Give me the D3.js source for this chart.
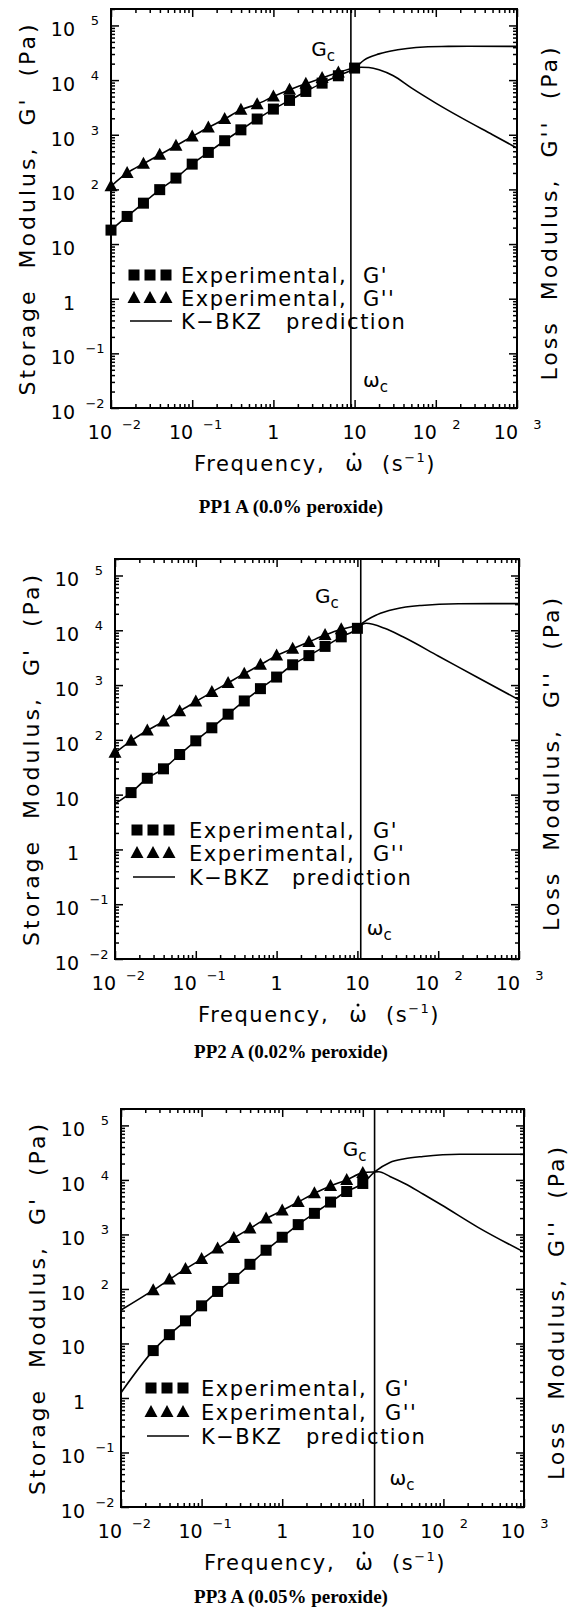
<!DOCTYPE html>
<html>
<head>
<meta charset="utf-8">
<script src="https://cdn.jsdelivr.net/npm/d3@7"></script>
<style>
  body { margin: 0; background: #fff; }
  text { font-family: "DejaVu Sans", sans-serif; fill: #000; }
</style>
</head>
<body>
<div id="chart"></div>
<script>
// ---- data ----

// shared axes
const xMajor = [0.01, 0.1, 1, 10, 100, 1000];
const xTickBase = ["10", "10", "1", "10", "10", "10"];
const xTickSup = ["\u22122", "\u22121", "", "", "2", "3"];
const yMajor = [0.01, 0.1, 1, 10, 100, 1000, 1e4, 1e5];
const yTickBase = ["10", "10", "1", "10", "10", "10", "10", "10"];
const yTickSup = ["\u22122", "\u22121", "", "", "2", "3", "4", "5"];
const xDomain = [0.01, 1000];
const yDomain = [0.01, 2e5];

// PP1 A (0.0% peroxide)
const pp1FreqGp = [0.01, 0.0158, 0.0251, 0.0398, 0.0631, 0.1, 0.158, 0.251, 0.398, 0.631, 1, 1.58, 2.51, 3.98, 6.31, 10];
const pp1Gp = [18, 32, 56, 99, 161, 290, 475, 777, 1230, 1940, 2950, 4250, 6200, 8800, 12000, 16600];
const pp1FreqGpp = [0.01, 0.0158, 0.0251, 0.0398, 0.0631, 0.1, 0.158, 0.251, 0.398, 0.631, 1, 1.58, 2.51, 3.98, 6.31];
const pp1Gpp = [114, 200, 295, 430, 630, 930, 1360, 1940, 2870, 3630, 5010, 6650, 8570, 10900, 13800];
const pp1ModelFreqGp = [0.01, 0.0158, 0.0251, 0.0398, 0.0631, 0.1, 0.158, 0.251, 0.398, 0.631, 1, 1.58, 2.51, 3.98, 6.31, 10, 13.2, 20, 34, 57, 118, 250, 1000];
const pp1ModelGp = [18, 32, 56, 99, 161, 290, 475, 777, 1230, 1940, 2950, 4250, 6200, 8800, 12000, 16600, 23500, 30200, 35900, 39600, 41300, 41500, 41500];
const pp1ModelFreqGpp = [0.01, 0.0158, 0.0251, 0.0398, 0.0631, 0.1, 0.158, 0.251, 0.398, 0.631, 1, 1.58, 2.51, 3.98, 6.31, 10, 12, 15, 20, 30, 50, 100, 200, 500, 1000];
const pp1ModelGpp = [114, 200, 295, 430, 630, 930, 1360, 1940, 2870, 3630, 5010, 6650, 8570, 10900, 13800, 16600, 17200, 17000, 15500, 12000, 7200, 3800, 2100, 1000, 570];
const pp1OmegaC = 9;

// PP2 A (0.02% peroxide)
const pp2FreqGp = [0.0158, 0.0251, 0.0398, 0.0631, 0.1, 0.158, 0.251, 0.398, 0.631, 1, 1.58, 2.51, 3.98, 6.31, 10];
const pp2Gp = [10.9, 19.9, 29.6, 54, 96, 166, 294, 513, 860, 1400, 2345, 3450, 5080, 7590, 10860];
const pp2FreqGpp = [0.01, 0.0158, 0.0251, 0.0398, 0.0631, 0.1, 0.158, 0.251, 0.398, 0.631, 1, 1.58, 2.51, 3.98, 6.31];
const pp2Gpp = [58, 96, 148, 217, 334, 499, 745, 1096, 1615, 2344, 3450, 4600, 6130, 8160, 10400];
const pp2ModelFreqGp = [0.01, 0.0158, 0.0251, 0.0398, 0.0631, 0.1, 0.158, 0.251, 0.398, 0.631, 1, 1.58, 2.51, 3.98, 6.31, 10, 11, 17.6, 29.7, 61.7, 178, 1000];
const pp2ModelGp = [6.8, 10.9, 19.9, 29.6, 54, 96, 166, 294, 513, 860, 1400, 2345, 3450, 5080, 7590, 10860, 12600, 19300, 24500, 28400, 30500, 30700];
const pp2ModelFreqGpp = [0.01, 0.0158, 0.0251, 0.0398, 0.0631, 0.1, 0.158, 0.251, 0.398, 0.631, 1, 1.58, 2.51, 3.98, 6.31, 11, 12.8, 21.7, 36.6, 100, 300, 1000];
const pp2ModelGpp = [58, 96, 148, 217, 334, 499, 745, 1096, 1615, 2344, 3450, 4600, 6130, 8160, 10400, 12600, 13400, 10900, 7590, 3400, 1400, 537];
const pp2OmegaC = 11;

// PP3 A (0.05% peroxide)
const pp3FreqGp = [0.0251, 0.0398, 0.0631, 0.1, 0.158, 0.251, 0.398, 0.631, 1, 1.58, 2.51, 3.98, 6.31, 10];
const pp3Gp = [7.4, 14.5, 26, 49, 90, 156, 283, 513, 888, 1514, 2437, 3925, 6130, 8610];
const pp3FreqGpp = [0.0251, 0.0398, 0.0631, 0.1, 0.158, 0.251, 0.398, 0.631, 1, 1.58, 2.51, 3.98, 6.31, 10];
const pp3Gpp = [95, 149, 233, 353, 552, 861, 1288, 1953, 2747, 3925, 5690, 7770, 10000, 13460];
const pp3ModelFreqGp = [0.01, 0.0251, 0.0398, 0.0631, 0.1, 0.158, 0.251, 0.398, 0.631, 1, 1.58, 2.51, 3.98, 6.31, 10, 14, 21.7, 33, 55.8, 158, 1000];
const pp3ModelGp = [1.25, 7.4, 14.5, 26, 49, 90, 156, 283, 513, 888, 1514, 2437, 3925, 6130, 8610, 14000, 20900, 24400, 26900, 29500, 29500];
const pp3ModelFreqGpp = [0.01, 0.0251, 0.0398, 0.0631, 0.1, 0.158, 0.251, 0.398, 0.631, 1, 1.58, 2.51, 3.98, 6.31, 10, 14, 15.8, 21.7, 33, 55.8, 94, 269, 1000];
const pp3ModelGpp = [41, 95, 149, 233, 353, 552, 861, 1288, 1953, 2747, 3925, 5690, 7770, 10000, 13460, 14000, 14100, 11600, 8610, 5520, 3500, 1350, 475];
const pp3OmegaC = 14;

const captions = ["PP1 A (0.0% peroxide)", "PP2 A (0.02% peroxide)", "PP3 A (0.05% peroxide)"];

// ---- layout ----
const W = 577, H = 1614;
const svg = d3.select("#chart").append("svg")
    .attr("width", W)
    .attr("height", H);

const panels = [
  { left: 111, top: 9, right: 517, bottom: 408, capDy: 105,
    gc: [-16, 50], wc: [12, 383], leg: { x: 23, text: 70, g: 252, pred: 175, rows: [275, 298, 321] },
    fGp: pp1FreqGp, gp: pp1Gp, fGpp: pp1FreqGpp, gpp: pp1Gpp,
    mfGp: pp1ModelFreqGp, mGp: pp1ModelGp, mfGpp: pp1ModelFreqGpp, mGpp: pp1ModelGpp, wC: pp1OmegaC },
  { left: 115, top: 559, right: 519, bottom: 959, capDy: 99,
    gc: [-22, 597], wc: [6, 931], leg: { x: 22, text: 74, g: 258, pred: 177, rows: [830, 853, 877] },
    fGp: pp2FreqGp, gp: pp2Gp, fGpp: pp2FreqGpp, gpp: pp2Gpp,
    mfGp: pp2ModelFreqGp, mGp: pp2ModelGp, mfGpp: pp2ModelFreqGpp, mGpp: pp2ModelGpp, wC: pp2OmegaC },
  { left: 121, top: 1109, right: 524, bottom: 1507, capDy: 96,
    gc: [-8, 1150], wc: [15, 1481], leg: { x: 30, text: 80, g: 264, pred: 185, rows: [1388, 1412, 1436] },
    fGp: pp3FreqGp, gp: pp3Gp, fGpp: pp3FreqGpp, gpp: pp3Gpp,
    mfGp: pp3ModelFreqGp, mGp: pp3ModelGp, mfGpp: pp3ModelFreqGpp, mGpp: pp3ModelGpp, wC: pp3OmegaC }
];

function minorTicks(lo, hi) {
  let out = [];
  for (let d = lo; d < hi; d *= 10) {
    for (let m = 2; m <= 9; m++) {
      if (d * m <= hi * 1.0001) out.push(d * m);
    }
  }
  return out;
}
const xMinor = minorTicks(0.01, 1000);
const yMinor = minorTicks(0.01, 2e5);

const triPath = "M0,-7L6.5,5L-6.5,5Z";

function drawPanel(p, i) {
  const g = svg.append("g");
  const x = d3.scaleLog().domain(xDomain).range([p.left, p.right]);
  const y = d3.scaleLog().domain(yDomain).range([p.bottom, p.top]);

  // ticks on all four sides, pointing inwards
  const addAxis = (axisFn, scale, vals, size, tr) => {
    const a = g.append("g").attr("transform", tr)
      .call(axisFn(scale).tickValues(vals).tickSize(-size).tickFormat(""));
    a.select(".domain").remove();
    a.selectAll("line").attr("stroke-width", 1.5);
  };
  addAxis(d3.axisBottom, x, xMajor, 8, `translate(0,${p.bottom})`);
  addAxis(d3.axisBottom, x, xMinor, 4, `translate(0,${p.bottom})`);
  addAxis(d3.axisTop, x, xMajor, 8, `translate(0,${p.top})`);
  addAxis(d3.axisTop, x, xMinor, 4, `translate(0,${p.top})`);
  addAxis(d3.axisLeft, y, yMajor, 8, `translate(${p.left},0)`);
  addAxis(d3.axisLeft, y, yMinor, 4, `translate(${p.left},0)`);
  addAxis(d3.axisRight, y, yMajor, 8, `translate(${p.right},0)`);
  addAxis(d3.axisRight, y, yMinor, 4, `translate(${p.right},0)`);

  g.append("rect")
    .attr("x", p.left).attr("y", p.top)
    .attr("width", p.right - p.left).attr("height", p.bottom - p.top)
    .attr("fill", "none").attr("stroke", "#000").attr("stroke-width", 2);

  // x tick labels
  xMajor.forEach((v, k) => {
    const t = g.append("text").attr("y", p.bottom + 31).style("font-size", "19px");
    if (xTickSup[k] === "") {
      t.attr("x", x(v)).attr("text-anchor", "middle").text(xTickBase[k]);
    } else {
      t.attr("x", x(v) + 1).attr("text-anchor", "end").text(xTickBase[k]);
      g.append("text").attr("x", x(v) + 20.5).attr("y", p.bottom + 21)
        .attr("text-anchor", "middle").style("font-size", "13px").text(xTickSup[k]);
    }
  });

  // y tick labels
  yMajor.forEach((v, k) => {
    g.append("text").attr("x", p.left - 36).attr("y", y(v) + 11)
      .attr("text-anchor", "end").style("font-size", "19px")
      .text(yTickBase[k]);
    if (yTickSup[k] !== "") {
      g.append("text").attr("x", p.left - 16).attr("y", y(v))
        .attr("text-anchor", "middle").style("font-size", "13px").text(yTickSup[k]);
    }
  });

  // x axis title
  const x0 = p.left + 83, by = p.bottom + 63;
  g.append("text").attr("x", x0).attr("y", by)
    .style("font-size", "21px").style("letter-spacing", "1.6px").text("Frequency,");
  g.append("text").attr("x", x0 + 160).attr("y", by)
    .attr("text-anchor", "middle").style("font-size", "21px").text("\u03c9");
  g.append("circle").attr("cx", x0 + 160).attr("cy", by - 17).attr("r", 1.5).attr("fill", "#000");
  const st = g.append("text").attr("x", x0 + 188).attr("y", by)
    .style("font-size", "21px").style("letter-spacing", "1.5px");
  st.append("tspan").text("(s");
  st.append("tspan").attr("dy", -9).style("font-size", "13px").text("\u22121");
  st.append("tspan").attr("dy", 9).text(")");

  // y axis titles
  const cy = (p.top + p.bottom) / 2;
  g.append("text").attr("transform", `translate(${p.left - 76},${cy}) rotate(-90)`)
    .attr("text-anchor", "middle").style("font-size", "22px")
    .style("letter-spacing", "3px").style("white-space", "pre")
    .text("Storage  Modulus,  G'  (Pa)");
  g.append("text").attr("transform", `translate(${p.right + 40},${cy + 4}) rotate(-90)`)
    .attr("text-anchor", "middle").style("font-size", "22px")
    .style("letter-spacing", "3px").style("white-space", "pre")
    .text("Loss  Modulus,  G''  (Pa)");

  // caption
  g.append("text").attr("x", 291).attr("y", p.bottom + p.capDy)
    .attr("text-anchor", "middle")
    .style("font-family", "'Liberation Serif', 'Times New Roman', serif")
    .style("font-weight", "bold").style("font-size", "19px")
    .text(captions[i]);

  // crossover line
  const xc = x(p.wC);
  g.append("line").attr("x1", xc).attr("x2", xc).attr("y1", p.top).attr("y2", p.bottom)
    .attr("stroke", "#000").attr("stroke-width", 1.6);
  const gcT = g.append("text").attr("x", xc + p.gc[0]).attr("y", p.gc[1] + 6)
    .attr("text-anchor", "end").style("font-size", "20px");
  gcT.append("tspan").text("G");
  gcT.append("tspan").attr("dy", 5).style("font-size", "15px").text("c");
  const wcT = g.append("text").attr("x", xc + p.wc[0]).attr("y", p.wc[1] + 4)
    .style("font-size", "20px");
  wcT.append("tspan").text("\u03c9");
  wcT.append("tspan").attr("dy", 5).style("font-size", "15px").text("c");

  // model lines
  const line = d3.line().x(d => x(d[0])).y(d => y(d[1])).curve(d3.curveMonotoneX);
  const clipId = "clip" + i;
  svg.append("clipPath").attr("id", clipId).append("rect")
    .attr("x", p.left).attr("y", p.top).attr("width", p.right - p.left).attr("height", p.bottom - p.top);
  [[p.mfGp, p.mGp], [p.mfGpp, p.mGpp]].forEach(([fs, gs]) => {
    g.append("path").datum(d3.zip(fs, gs))
      .attr("clip-path", `url(#${clipId})`)
      .attr("fill", "none").attr("stroke", "#000").attr("stroke-width", 1.6)
      .attr("d", line);
  });

  // experimental points
  g.selectAll(".sq").data(d3.zip(p.fGp, p.gp)).enter().append("rect")
    .attr("x", d => x(d[0]) - 5.5).attr("y", d => y(d[1]) - 5.5)
    .attr("width", 11).attr("height", 11).attr("fill", "#000");
  g.selectAll(".tri").data(d3.zip(p.fGpp, p.gpp)).enter().append("path")
    .attr("transform", d => `translate(${x(d[0])},${y(d[1])})`)
    .attr("d", triPath).attr("fill", "#000");

  // legend
  const L = p.leg;
  [0, 1, 2].forEach(k => {
    g.append("rect").attr("x", p.left + L.x + k * 16 - 5.5).attr("y", L.rows[0] - 5.5)
      .attr("width", 11).attr("height", 11).attr("fill", "#000");
    g.append("path").attr("transform", `translate(${p.left + L.x + k * 16},${L.rows[1]})`)
      .attr("d", triPath).attr("fill", "#000");
  });
  g.append("line").attr("x1", p.left + L.x - 4).attr("x2", p.left + L.x + 38)
    .attr("y1", L.rows[2]).attr("y2", L.rows[2]).attr("stroke", "#000").attr("stroke-width", 1.6);
  const legTxt = [["Experimental,", "G'"], ["Experimental,", "G''"]];
  const legText = (tx, ty, s) => g.append("text").attr("x", tx).attr("y", ty + 8)
    .style("font-size", "21px").style("letter-spacing", "1.5px").text(s);
  legTxt.forEach((r, k) => {
    legText(p.left + L.text, L.rows[k], r[0]);
    legText(p.left + L.g, L.rows[k], r[1]);
  });
  legText(p.left + L.text, L.rows[2], "K\u2212BKZ");
  legText(p.left + L.pred, L.rows[2], "prediction");
}

panels.forEach(drawPanel);
</script>
</body>
</html>
